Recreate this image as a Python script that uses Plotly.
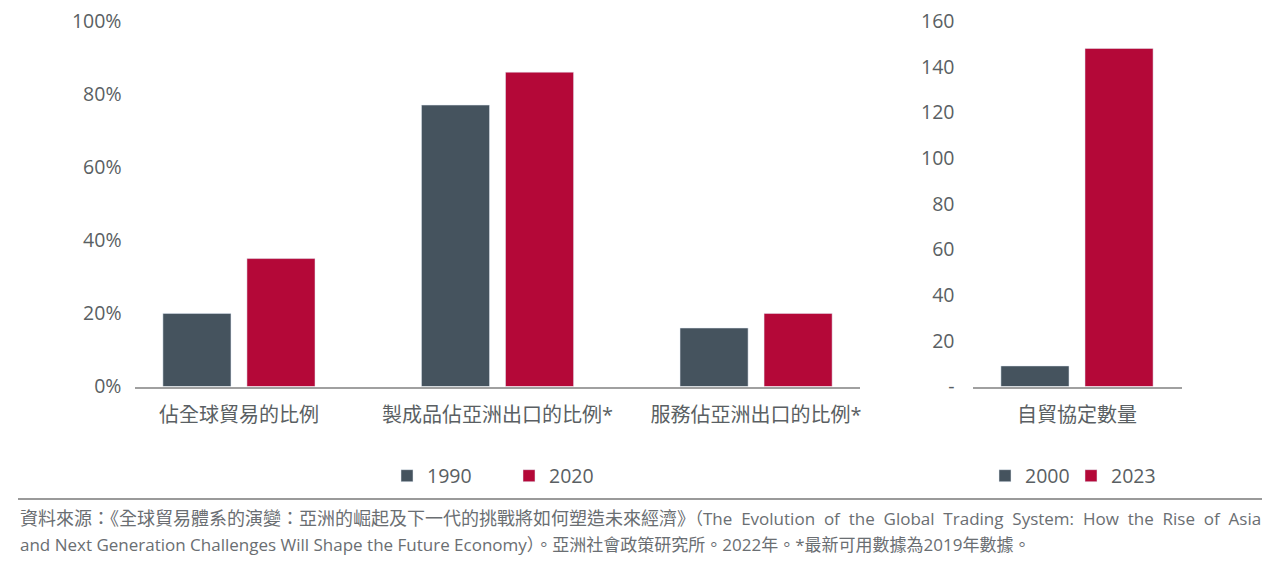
import plotly.graph_objects as go

# ---- data ----
left_categories = ["佔全球貿易的比例", "製成品佔亞洲出口的比例*", "服務佔亞洲出口的比例*"]
left_1990 = [20, 77, 16]
left_2020 = [35, 86, 20]
left_ticks = [0, 20, 40, 60, 80, 100]
left_ticklabels = ["0%", "20%", "40%", "60%", "80%", "100%"]

right_categories = ["自貿協定數量"]
right_2000 = [9]
right_2023 = [148]
right_ticks = [0, 20, 40, 60, 80, 100, 120, 140, 160]
right_ticklabels = ["-", "20", "40", "60", "80", "100", "120", "140", "160"]

source_line1a = "資料來源：《全球貿易體系的演變：亞洲的崛起及下一代的挑戰將如何塑造未來經濟》"
source_line1b = "（The Evolution of the Global Trading System: How the Rise of Asia"
source_line2 = ("and Next Generation Challenges Will Shape the Future Economy）。"
                "亞洲社會政策研究所。2022年。*最新可用數據為2019年數據。")

DARK = "#45535E"
RED = "#B40838"
TEXT = "#5a5f63"
FONT = "Open Sans, Noto Sans CJK TC, sans-serif"

W, H = 1280, 566


def px_x(p):
    return p / W


def px_y(p):
    return 1 - p / H


fig = go.Figure()

fig.add_trace(go.Bar(x=left_categories, y=left_1990, name="1990", marker_color=DARK,
                     xaxis="x", yaxis="y", legend="legend"))
fig.add_trace(go.Bar(x=left_categories, y=left_2020, name="2020", marker_color=RED,
                     xaxis="x", yaxis="y", legend="legend"))
fig.add_trace(go.Bar(x=right_categories, y=right_2000, name="2000", marker_color=DARK,
                     xaxis="x2", yaxis="y2", legend="legend2"))
fig.add_trace(go.Bar(x=right_categories, y=right_2023, name="2023", marker_color=RED,
                     xaxis="x2", yaxis="y2", legend="legend2"))

ydom = [px_y(386.5), px_y(21)]

tick_font = dict(family=FONT, size=19.5, color=TEXT)
cat_font = dict(family=FONT, size=20, color=TEXT)
leg_font = dict(family=FONT, size=19.5, color=TEXT)

fig.update_layout(
    width=W, height=H,
    margin=dict(l=0, r=0, t=0, b=0, autoexpand=False),
    paper_bgcolor="white", plot_bgcolor="white",
    font=dict(family=FONT, color=TEXT),
    barmode="group",
    bargap=0.35,
    bargroupgap=0.19,
    xaxis=dict(domain=[px_x(134.5), px_x(859.5)], range=[-0.404, 2.4],
               showline=True, linecolor="#a0a0a0", linewidth=1.5,
               showgrid=False, zeroline=False, ticks="", tickfont=cat_font,
               ticklabelstandoff=10, anchor="y", automargin=False),
    yaxis=dict(domain=ydom, range=[0, 100], tickvals=left_ticks, ticktext=left_ticklabels,
               showgrid=False, zeroline=False, showline=False, ticks="",
               tickfont=tick_font, ticklabelstandoff=12, anchor="x", automargin=False),
    xaxis2=dict(domain=[px_x(972.5), px_x(1181.5)], range=[-0.404, 0.404],
                showline=True, linecolor="#a0a0a0", linewidth=1.5,
                showgrid=False, zeroline=False, ticks="", tickfont=cat_font,
                ticklabelstandoff=10, anchor="y2", automargin=False),
    yaxis2=dict(domain=ydom, range=[0, 160], tickvals=right_ticks, ticktext=right_ticklabels,
                showgrid=False, zeroline=False, showline=False, ticks="",
                tickfont=tick_font, ticklabelstandoff=17, anchor="x2", automargin=False),
    legend=dict(orientation="h", x=px_x(387), y=px_y(476), xanchor="left", yanchor="middle",
                font=leg_font, entrywidth=77, itemwidth=30, bgcolor="rgba(0,0,0,0)"),
    legend2=dict(orientation="h", x=px_x(985), y=px_y(476), xanchor="left", yanchor="middle",
                 font=leg_font, entrywidth=41, itemwidth=30, bgcolor="rgba(0,0,0,0)"),
    showlegend=True,
)

# footer rule
fig.add_shape(type="line", xref="paper", yref="paper",
              x0=px_x(18), x1=px_x(1262), y0=px_y(499), y1=px_y(499),
              line=dict(color="#9a9a9a", width=2))

# first source line is justified in the original: spread its latin part
line1b_spread = source_line1b.replace(" ", " \u00a0")

fig.add_annotation(text=source_line1a, xref="paper", yref="paper",
                   x=px_x(18), y=px_y(518), xanchor="left", yanchor="middle",
                   showarrow=False, align="left",
                   font=dict(family=FONT, size=18, color="#6a6e72"))
fig.add_annotation(text=line1b_spread, xref="paper", yref="paper",
                   x=px_x(1263), y=px_y(518), xanchor="right", yanchor="middle",
                   showarrow=False, align="right",
                   font=dict(family=FONT, size=17, color="#6a6e72"))
fig.add_annotation(text=source_line2, xref="paper", yref="paper",
                   x=px_x(18), y=px_y(544), xanchor="left", yanchor="middle",
                   showarrow=False, align="left",
                   font=dict(family=FONT, size=17, color="#6a6e72"))

fig.write_html("out.html")
